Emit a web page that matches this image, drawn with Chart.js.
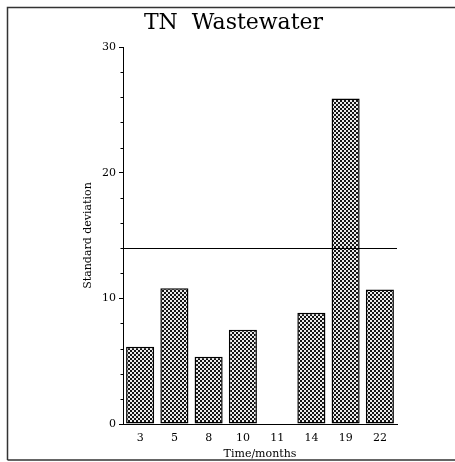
<!DOCTYPE html>
<html>
<head>
<meta charset="utf-8">
<script src="https://cdn.jsdelivr.net/npm/chart.js@4"></script>
<style>
html,body{margin:0;padding:0;background:#fff;}
#wrap{width:455px;height:462px;}
</style>
</head>
<body>
<div id="wrap"><canvas id="c" width="455" height="462"></canvas></div>
<script>
const categories = ['3', '5', '8', '10', '11', '14', '19', '22'];
const stdDev = [6.15, 10.8, 5.35, 7.5, 0, 8.85, 25.9, 10.7];
const referenceLevel = 14;
const yTickValues = [0, 10, 20, 30];

function makePattern() {
  const t = document.createElement('canvas');
  t.width = 4; t.height = 4;
  const g = t.getContext('2d');
  const img = g.createImageData(4, 4);
  for (let y = 0; y < 4; y++) {
    for (let x = 0; x < 4; x++) {
      const i = (y * 4 + x) * 4;
      const dark = ((Math.floor(x / 2) + Math.floor(y / 2)) % 2 === 0);
      const v = dark ? 20 : 235;
      img.data[i] = v; img.data[i + 1] = v; img.data[i + 2] = v; img.data[i + 3] = 255;
    }
  }
  g.putImageData(img, 0, 0);
  return document.getElementById('c').getContext('2d').createPattern(t, 'repeat');
}

const serif = "'DejaVu Serif', 'Liberation Serif', serif";

const framePlugin = {
  id: 'frame',
  beforeDraw(chart) {
    const ctx = chart.ctx;
    ctx.save();
    ctx.fillStyle = '#fff';
    ctx.fillRect(0, 0, chart.width, chart.height);
    ctx.strokeStyle = '#333';
    ctx.lineWidth = 1.5;
    ctx.beginPath();
    ctx.moveTo(7.5, 460);
    ctx.lineTo(7.5, 7.5);
    ctx.lineTo(455, 7.5);
    ctx.moveTo(7.5, 460);
    ctx.lineTo(455, 460);
    ctx.stroke();
    ctx.restore();
  },
  afterDatasetsDraw(chart) {
    const ctx = chart.ctx;
    const y = chart.scales.y;
    const a = chart.chartArea;
    ctx.save();
    ctx.strokeStyle = '#000';
    ctx.lineWidth = 1;
    const py = Math.round(y.getPixelForValue(referenceLevel)) + 0.5;
    ctx.beginPath();
    ctx.moveTo(a.left, py);
    ctx.lineTo(a.right, py);
    ctx.stroke();
    // minor ticks
    ctx.beginPath();
    for (let v = y.min; v <= y.max; v += 2) {
      if (v % 10 === 0) continue;
      const p = Math.round(y.getPixelForValue(v)) + 0.5;
      ctx.moveTo(a.left - 2.5, p);
      ctx.lineTo(a.left, p);
    }
    ctx.stroke();
    ctx.restore();
  }
};

new Chart(document.getElementById('c'), {
  type: 'bar',
  data: {
    labels: categories,
    datasets: [{
      data: stdDev,
      backgroundColor: makePattern(),
      borderColor: '#000',
      borderWidth: 1.5,
      borderSkipped: false,
      categoryPercentage: 1.0,
      barPercentage: 0.82
    }]
  },
  options: {
    responsive: false,
    animation: false,
    devicePixelRatio: 1,
    layout: { padding: { left: 70, right: 58, top: 0, bottom: 2 } },
    plugins: {
      legend: { display: false },
      tooltip: { enabled: false },
      title: {
        display: true,
        text: 'TN  Wastewater',
        color: '#000',
        font: { family: serif, size: 22, weight: 'normal', lineHeight: 1.0 },
        padding: { top: 12, bottom: 13 }
      }
    },
    scales: {
      x: {
        grid: { display: false, drawTicks: false },
        border: { display: true, color: '#000', width: 1 },
        ticks: { color: '#000', font: { family: serif, size: 11, lineHeight: 1.0 }, padding: 9, maxRotation: 0 },
        title: { display: true, text: 'Time/months', color: '#000', font: { family: serif, size: 11, lineHeight: 1.0 }, padding: { top: -4, bottom: 0 } }
      },
      y: {
        min: 0,
        max: 30,
        afterFit(scale) { scale.width = 53; },
        afterBuildTicks(scale) { scale.ticks = yTickValues.map(v => ({ value: v })); },
        grid: { drawOnChartArea: false, drawTicks: true, tickLength: 4, color: '#000' },
        border: { display: true, color: '#000', width: 1 },
        ticks: { color: '#000', font: { family: serif, size: 11 }, padding: 3 },
        title: { display: true, text: 'Standard deviation', color: '#000', font: { family: serif, size: 11 }, padding: { top: 12, bottom: 0 } }
      }
    }
  },
  plugins: [framePlugin]
});
</script>
</body>
</html>
